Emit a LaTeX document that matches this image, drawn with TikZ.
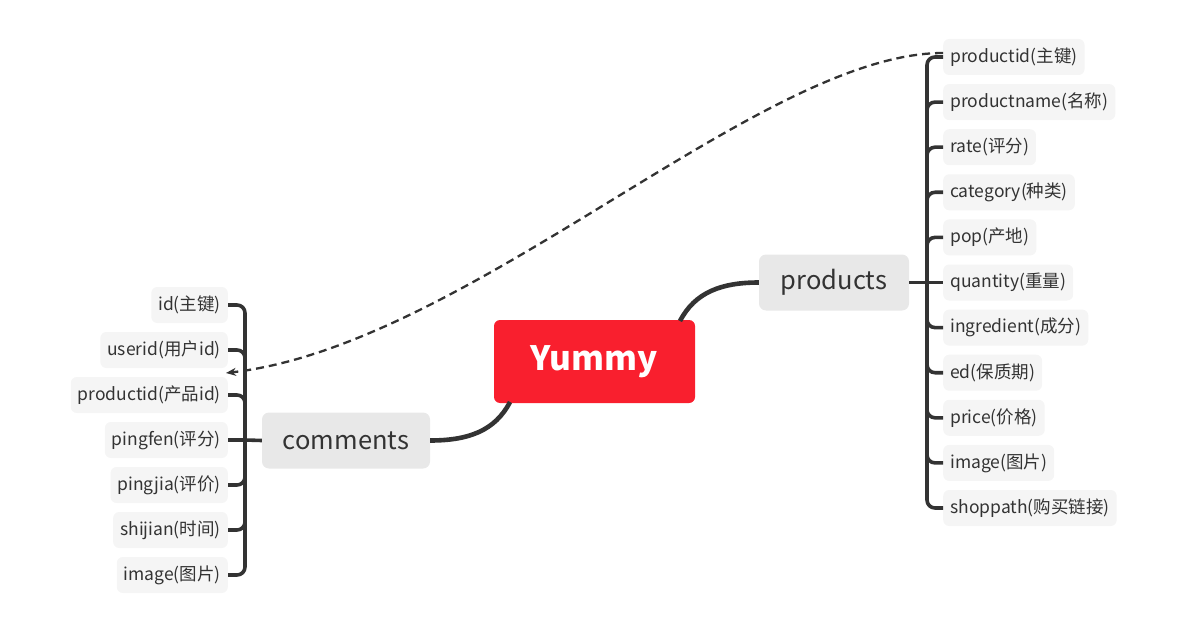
\documentclass[tikz,border=0pt]{standalone}
\usepackage{fontspec}
\setmainfont{Noto Sans CJK SC}
\usetikzlibrary{arrows.meta}
\definecolor{lc}{HTML}{333333}
\definecolor{txt}{HTML}{333333}
\definecolor{rootc}{HTML}{F91F2E}
\definecolor{topicc}{HTML}{E8E8E8}
\definecolor{leafc}{HTML}{F5F5F5}
\begin{document}
\begin{tikzpicture}[x=1pt,y=-1pt,
  root/.style={fill=rootc, rounded corners=6pt, minimum width=201pt, minimum height=83pt, inner sep=0pt, text=white, font=\fontsize{33.5}{38}\selectfont\bfseries},
  topic/.style={fill=topicc, rounded corners=7pt, minimum height=56pt, inner sep=0pt, text=txt, font=\fontsize{25.5}{29}\selectfont},
  leaf/.style={fill=leafc, rounded corners=6pt, minimum height=36pt, inner xsep=7pt, inner ysep=0pt, text=txt, font=\fontsize{17.5}{20}\selectfont},
  branch/.style={draw=lc, line width=3.6pt},
  mainbranch/.style={draw=lc, line width=4.6pt},
  link/.style={draw=lc, line width=2.3pt, dash pattern=on 8pt off 5pt, -{Stealth[length=10pt,width=8pt]}}
]
\useasboundingbox (0,0) rectangle (1190,636);

\node[root] (yummy) at (594.5,361.5) {Yummy};
\node[topic, minimum width=150pt] (products) at (834,282.5) {products};
\node[topic, minimum width=168pt] (comments) at (346,440.5) {comments};

\foreach \n/\y/\t in {p1/57/productid(主键), p2/102.1/productname(名称), p3/147.2/rate(评分), p4/192.3/category(种类), p5/237.4/pop(产地), p6/282.5/quantity(重量), p7/327.6/ingredient(成分), p8/372.7/ed(保质期), p9/417.8/price(价格), p10/462.9/image(图片), p11/508/shoppath(购买链接)}
  \node[leaf, anchor=west] (\n) at (943,\y) {\t};

\foreach \n/\y/\t in {c1/305/id(主键), c2/350/userid(用户id), c3/395/productid(产品id), c4/440/pingfen(评分), c5/485/pingjia(评价), c6/530/shijian(时间), c7/575/image(图片)}
  \node[leaf, anchor=east] (\n) at (228,\y) {\t};

% main branches
\draw[mainbranch] (680,321) .. controls (695,292) and (722,282.5) .. (products.west);
\draw[mainbranch] (510,402) .. controls (495,431) and (468,440.5) .. (comments.east);

% products bracket
\coordinate (pj) at (927,282.5);
\draw[branch] (products.east) -- (pj);
\foreach \n in {p1,p2,p3,p4,p5,p7,p8,p9,p10,p11}
  \draw[branch, rounded corners=8pt] (pj) |- (\n.west);
\draw[branch] (pj) -- (p6.west);

% comments bracket
\coordinate (cj) at (245,440);
\draw[branch] (comments.west) -- (cj);
\foreach \n in {c1,c2,c3,c5,c6,c7}
  \draw[branch, rounded corners=8pt] (cj) |- (\n.east);
\draw[branch] (cj) -- (c4.east);

% dashed relation
\coordinate (arrowend) at (226,373);
\draw[link] ([yshift=4pt]p1.west) .. controls (760,53) and (470,345) .. (arrowend);
\end{tikzpicture}
\end{document}
